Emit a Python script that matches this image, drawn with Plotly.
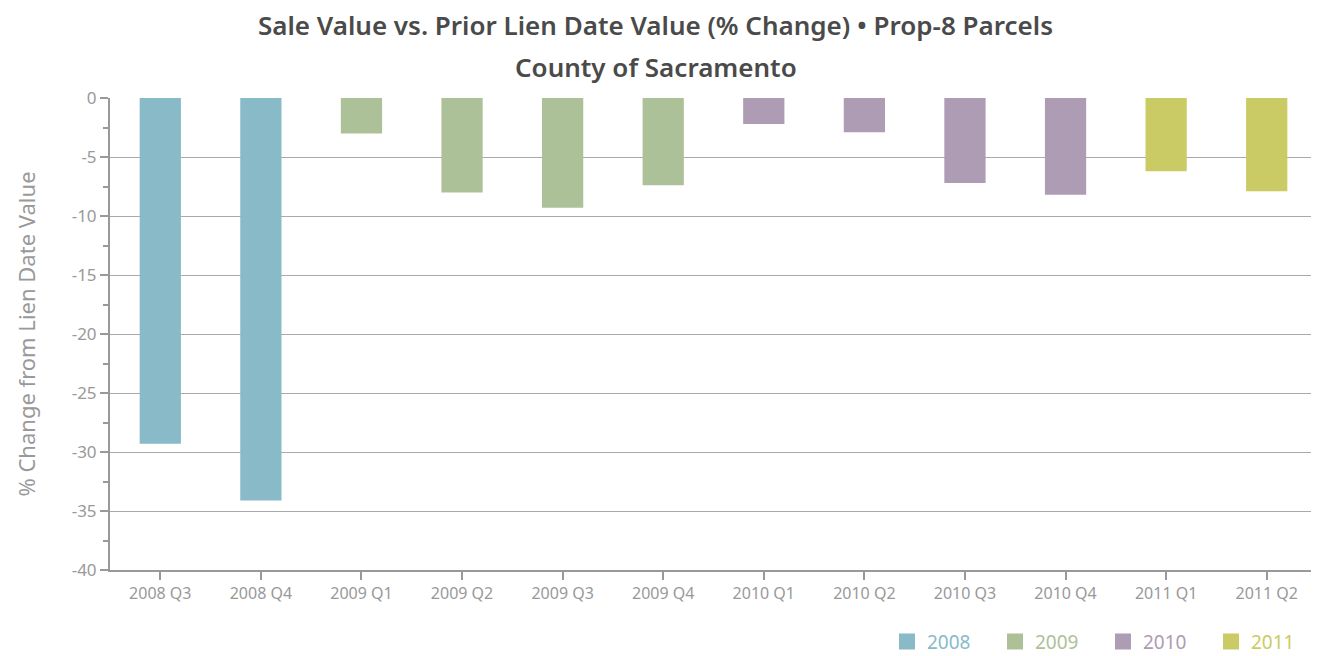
import plotly.graph_objects as go

quarters = ["2008 Q3", "2008 Q4", "2009 Q1", "2009 Q2", "2009 Q3", "2009 Q4",
            "2010 Q1", "2010 Q2", "2010 Q3", "2010 Q4", "2011 Q1", "2011 Q2"]
years = ["2008", "2009", "2010", "2011"]
pct_change = [-29.3, -34.1, -3.0, -8.0, -9.3, -7.4,
              -2.2, -2.9, -7.2, -8.2, -6.2, -7.9]
year_colors = {"2008": "#88bac8", "2009": "#adc198", "2010": "#ad9cb3", "2011": "#cbcb65"}
y_ticks = [0, -5, -10, -15, -20, -25, -30, -35, -40]
y_ticklabels = ["0", "-5", "-10", "-15", "-20", "-25", "-30", "-35", "-40"]

fig = go.Figure()
for yr in years:
    xs = [q for q in quarters if q.startswith(yr)]
    ys = [v for q, v in zip(quarters, pct_change) if q.startswith(yr)]
    fig.add_trace(go.Bar(
        x=xs, y=ys, showlegend=False,
        marker=dict(color=year_colors[yr], line=dict(width=0)),
        width=0.41,
    ))
# legend-only entries, so the swatches can be bigger squares
for yr in years:
    fig.add_trace(go.Scatter(
        x=[None], y=[None], mode="markers",
        name=f'<span style="color:{year_colors[yr]}">{yr}</span>',
        marker=dict(color=year_colors[yr], symbol="square", size=18),
    ))

# page body has an 8px margin, so the figure is a little smaller than the window
fig.update_layout(
    width=1311, height=648,
    margin=dict(l=102, r=2, t=90, b=86),
    plot_bgcolor="white", paper_bgcolor="white",
    font=dict(family="Noto Sans, sans-serif", color="#999999"),
    barmode="overlay",
    showlegend=True,
    legend=dict(orientation="h", x=1.013, xanchor="right", yref="container", y=0.022, yanchor="middle",
                font=dict(size=19), traceorder="normal", entrywidth=63, entrywidthmode="pixels",
                itemsizing="trace"),
)
fig.add_annotation(text="Sale Value vs. Prior Lien Date Value (% Change) • Prop-8 Parcels",
                   xref="paper", yref="paper", x=0.452, y=1.154, yanchor="middle", showarrow=False,
                   font=dict(size=26, color="#4a4a4a", weight=600))
fig.add_annotation(text="County of Sacramento",
                   xref="paper", yref="paper", x=0.452, y=1.066, yanchor="middle", showarrow=False,
                   font=dict(size=26, color="#4a4a4a", weight=600))

fig.update_yaxes(
    range=[-40, 0], tickvals=y_ticks, ticktext=y_ticklabels,
    showgrid=True, gridcolor="#aaaaaa", gridwidth=1,
    showline=True, linecolor="#999999", linewidth=2,
    ticks="outside", ticklen=8, tickwidth=2, tickcolor="#999999",
    minor=dict(dtick=2.5, ticks="outside", ticklen=5, tickwidth=2, tickcolor="#999999", showgrid=False),
    tickfont=dict(size=17, color="#999999"),
    title=dict(text="% Change from Lien Date Value", font=dict(size=22, color="#999999"), standoff=30),
    zeroline=False,
)
fig.update_xaxes(
    type="category", categoryorder="array", categoryarray=quarters,
    showline=True, linecolor="#999999", linewidth=2,
    ticks="outside", ticklen=8, tickwidth=2, tickcolor="#999999",
    tickfont=dict(size=16, color="#999999"),
    showgrid=False,
)

fig.write_html("out.html")
